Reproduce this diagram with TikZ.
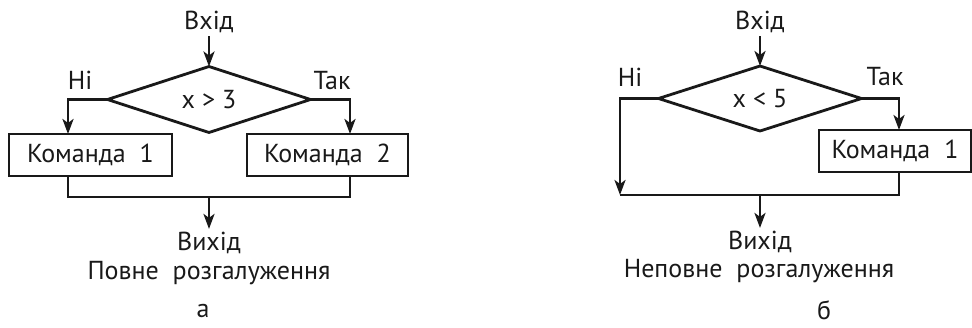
\documentclass[tikz,border=0pt]{standalone}
\usepackage{fontspec}
\setmainfont{PT Sans}
\usetikzlibrary{shapes.geometric,arrows.meta,calc}
\tikzset{
  flow/.style={line width=2.8pt, draw=black!90},
  arr/.style={flow, -{Stealth[length=15pt,width=11pt,inset=4pt]}},
  txt/.style={font=\fontsize{26}{30}\selectfont, inner sep=3pt, text=black!90},
  sublabel/.style={txt, inner sep=0.5pt},
  decide/.style={diamond, flow, aspect=3, inner sep=0pt, outer sep=0pt, font=\fontsize{26}{30}\selectfont, text=black!90},
  cmdbox/.style={rectangle, flow, inner sep=0pt, outer sep=0pt, minimum height=42pt, font=\fontsize{26}{30}\selectfont, text=black!90},
}
\begin{document}
\begin{tikzpicture}[x=1pt,y=-1pt]
\useasboundingbox (0,0) rectangle (972,327);
% ---------- a ----------
\node[txt] (inA) at (209,22) {Вхід};
\node[decide, minimum width=203pt, minimum height=66pt] (dA) at (209,99.5) {x > 3};
\node[txt] (noA) at (80,80) {Ні};
\node[txt] (yesA) at (332,81) {Так};
\node[cmdbox, minimum width=163pt] (c1A) at (90.5,155) {Команда\ \ 1};
\node[cmdbox, minimum width=161pt] (c2A) at (327.5,155) {Команда\ \ 2};
\coordinate (mA) at (209,197);
\node[txt] (outA) at (209,243) {Вихід};
\node[txt] (capA) at (209,273) {Повне\ \ розгалуження};
\node[sublabel] (labA) at (203,311) {а};
\draw[arr] (inA.south) -- (dA.north);
\draw[arr] (dA.west) -| ($(c1A.north west)+(59,0)$);
\draw[arr] (dA.east) -| ($(c2A.north east)+(-58,0)$);
\draw[flow] ($(c1A.south west)+(59,0)$) |- (mA) -| ($(c2A.south east)+(-58,0)$);
\draw[arr] (mA) -- (outA.north);
% ---------- b ----------
\node[txt] (inB) at (760,22) {Вхід};
\node[decide, minimum width=203pt, minimum height=65pt] (dB) at (760,98.5) {x < 5};
\node[txt] (noB) at (630,77) {Ні};
\node[txt] (yesB) at (885,77) {Так};
\node[cmdbox, minimum width=152pt] (c1B) at (895,151) {Команда\ \ 1};
\coordinate (jB) at (620,195);
\coordinate (mB) at (760,195);
\node[txt] (outB) at (760,242) {Вихід};
\node[txt] (capB) at (759,271) {Неповне\ \ розгалуження};
\node[sublabel] (labB) at (824,310) {б};
\draw[arr] (inB.south) -- (dB.north);
\draw[arr] (dB.west) -| (jB);
\draw[arr] (dB.east) -| ($(c1B.north)+(4,0)$);
\draw[flow] (jB) -| ($(c1B.south)+(4,0)$);
\draw[arr] (mB) -- (outB.north);
\end{tikzpicture}
\end{document}
